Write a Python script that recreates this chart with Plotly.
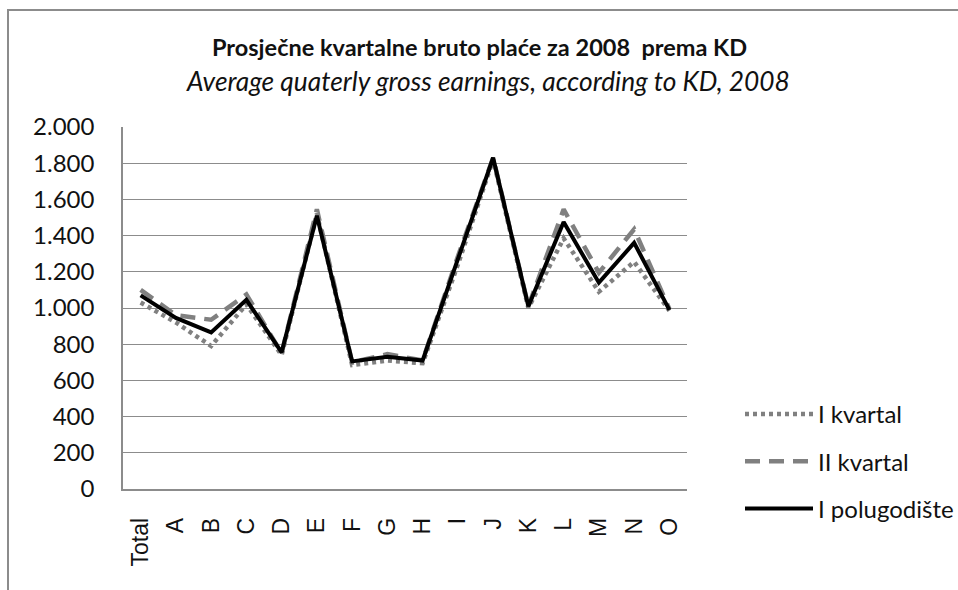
import plotly.graph_objects as go

categories = ["Total", "A", "B", "C", "D", "E", "F", "G", "H", "I", "J", "K", "L", "M", "N", "O"]
q1 = [1030, 920, 790, 1020, 740, 1520, 685, 710, 695, 1240, 1820, 1000, 1385, 1090, 1255, 985]
q2 = [1100, 960, 935, 1075, 750, 1545, 700, 745, 710, 1285, 1830, 1010, 1545, 1195, 1435, 995]
h1 = [1070, 945, 865, 1045, 755, 1510, 705, 730, 710, 1270, 1830, 1010, 1475, 1140, 1360, 990]
series_names = ["I kvartal", "II kvartal", "I polugodište"]
y_ticks = [0, 200, 400, 600, 800, 1000, 1200, 1400, 1600, 1800, 2000]

title_text = "<b>Prosječne kvartalne bruto plaće za 2008  prema KD</b>"
subtitle_text = "<i>Average quaterly gross earnings, according to KD, 2008</i>"

W, H = 958, 590
L, R, T, B = 123, 958 - 687, 127, 590 - 489
pw, ph = W - L - R, H - T - B

def px(x):
    return (x - L) / pw

def py(y):
    return (H - B - y) / ph

fig = go.Figure()
fig.add_trace(go.Scatter(x=categories, y=q1, name=series_names[0], mode="lines",
                         line=dict(color="#808080", width=4.5, dash="4px,4px"),
                         legendgroup="a"))
fig.add_trace(go.Scatter(x=categories, y=q2, name=series_names[1], mode="lines",
                         line=dict(color="#808080", width=4.5, dash="15px,9px"),
                         legendgroup="b"))
fig.add_trace(go.Scatter(x=categories, y=h1, name=series_names[2], mode="lines",
                         line=dict(color="#000000", width=4),
                         legendgroup="c"))

fig.update_layout(
    width=W, height=H,
    margin=dict(l=L, r=R, t=T, b=B, pad=0, autoexpand=False),
    paper_bgcolor="white", plot_bgcolor="white",
    separators=",.",
    font=dict(family="Lato", color="#111"),
    showlegend=True,
    legend=dict(x=740 / W, y=1 - 392 / H, xref="container", yref="container",
                xanchor="left", yanchor="top",
                font=dict(family="Lato", size=24, color="#111"),
                traceorder="grouped", tracegroupgap=13, itemwidth=68,
                bgcolor="rgba(0,0,0,0)"),
    xaxis=dict(range=[-0.5, 15.5], showgrid=False, showline=True,
               linecolor="#8c8c8c", linewidth=1.5, ticks="",
               tickangle=-90, ticklabelstandoff=18,
               tickfont=dict(family="Liberation Sans", size=23, color="#111")),
    yaxis=dict(range=[0, 2000], tickvals=y_ticks, tickformat=",.0f",
               showgrid=True, gridcolor="#8c8c8c", gridwidth=1,
               showline=True, linecolor="#8c8c8c", linewidth=1.5,
               ticks="", ticklabelstandoff=22, zeroline=False,
               tickfont=dict(family="Lato", size=24, color="#111")),
    annotations=[
        dict(text=title_text, x=px(479), y=py(47), xref="paper", yref="paper",
             showarrow=False, xanchor="center", yanchor="middle",
             font=dict(family="Lato", size=23.5, color="#111")),
        dict(text=subtitle_text, x=px(488), y=py(81), xref="paper", yref="paper",
             showarrow=False, xanchor="center", yanchor="middle",
             font=dict(family="Lato", size=26.3, color="#111")),
    ],
    shapes=[
        dict(type="path", xref="paper", yref="paper",
             path=f"M {px(8)} {py(600)} L {px(8)} {py(10)} L {px(970)} {py(10)}",
             line=dict(color="#8c8c8c", width=2)),
    ],
)

fig.write_html("out.html", config={"displayModeBar": False},
               post_script="document.body.style.margin='0';")
